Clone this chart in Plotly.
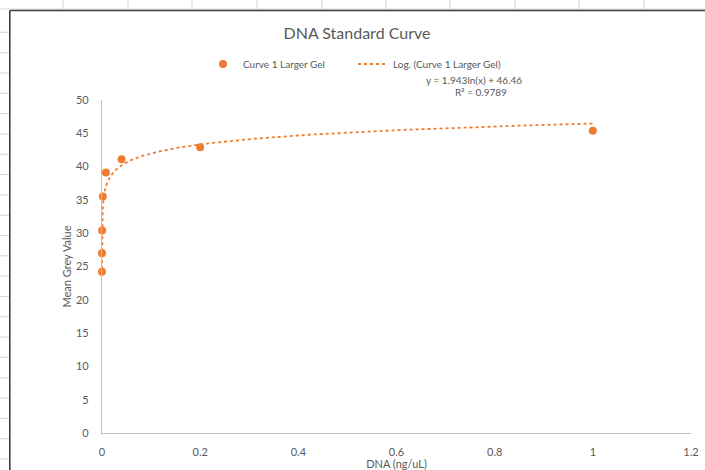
import numpy as np
import plotly.graph_objects as go

# ---- data ----
dna_conc = [1.0, 0.2, 0.04, 0.008, 0.0016, 0.00032, 0.000064, 0.0000128]
mean_grey = [45.4, 42.9, 41.1, 39.1, 35.5, 30.4, 27.0, 24.2]
trend_a = 1.943
trend_b = 46.46
equation_text = "y = 1.943ln(x) + 46.46"
r2_text = "R² = 0.9789"
series_name = "Curve 1 Larger Gel"
trend_name = "Log. (Curve 1 Larger Gel)"
x_ticks = [0, 0.2, 0.4, 0.6, 0.8, 1, 1.2]
x_tick_text = ["0", "0.2", "0.4", "0.6", "0.8", "1", "1.2"]
y_ticks = [0, 5, 10, 15, 20, 25, 30, 35, 40, 45, 50]

ORANGE = "#ED7D31"
TXT = "#595959"
FONT = "Lato"

W_FIG, H_FIG = 705, 470
L, R, T, B = 102, 14, 100, 37
PW = W_FIG - L - R
PH = H_FIG - T - B


def px(xp):
    return (xp - L) / PW


def py(yp):
    return (H_FIG - B - yp) / PH


tx = np.geomspace(min(dna_conc), max(dna_conc), 600)
ty = trend_a * np.log(tx) + trend_b

fig = go.Figure()
fig.add_trace(go.Scatter(
    x=dna_conc, y=mean_grey, mode="markers", name=series_name + "\u00a0" * 9,
    marker=dict(color=ORANGE, size=8, line=dict(width=0)),
    cliponaxis=False,
))
fig.add_trace(go.Scatter(
    x=tx, y=ty, mode="lines", name=trend_name,
    line=dict(color=ORANGE, width=1.8, dash="dot"),
    cliponaxis=False,
))

shapes = []
GRID = "#D9D9D9"
# spreadsheet grid: top strip vertical lines
for xv in [63, 128, 192, 257, 322, 386, 450, 515, 579, 644]:
    shapes.append(dict(type="line", xref="paper", yref="paper",
                       x0=px(xv), x1=px(xv), y0=py(0), y1=py(9.5),
                       line=dict(color=GRID, width=1.2), layer="below"))
# top strip horizontal line
shapes.append(dict(type="line", xref="paper", yref="paper",
                   x0=px(0), x1=px(705), y0=py(9), y1=py(9),
                   line=dict(color=GRID, width=1), layer="below"))
# left strip horizontal lines
for k in range(22):
    yv = 32.3 + 20.32 * k
    shapes.append(dict(type="line", xref="paper", yref="paper",
                       x0=px(0), x1=px(9), y0=py(yv), y1=py(yv),
                       line=dict(color=GRID, width=1.2), layer="below"))
# chart area border (left & top)
BORDER = "#3F3F3F"
shapes.append(dict(type="line", xref="paper", yref="paper",
                   x0=px(9.8), x1=px(9.8), y0=py(10.5), y1=py(471),
                   line=dict(color=BORDER, width=1.6)))
shapes.append(dict(type="line", xref="paper", yref="paper",
                   x0=px(9.8), x1=px(706), y0=py(10.5), y1=py(10.5),
                   line=dict(color=BORDER, width=1.6)))

annotations = [
    dict(text=equation_text, xref="paper", yref="paper",
         x=px(474), y=py(80), xanchor="center", yanchor="middle",
         showarrow=False, font=dict(family=FONT, size=10, color=TXT)),
    dict(text=r2_text, xref="paper", yref="paper",
         x=px(481), y=py(92), xanchor="center", yanchor="middle",
         showarrow=False, font=dict(family=FONT, size=10, color=TXT)),
]

fig.update_layout(
    width=W_FIG, height=H_FIG,
    margin=dict(l=L, r=R, t=T, b=B, autoexpand=False),
    paper_bgcolor="white", plot_bgcolor="white",
    title=dict(text="DNA Standard Curve", x=357 / W_FIG, xanchor="center",
               y=1 - 33 / H_FIG, yanchor="middle",
               font=dict(family=FONT, size=16, color=TXT)),
    legend=dict(orientation="h", x=px(203), y=py(64), xanchor="left", yanchor="middle",
                font=dict(family=FONT, size=10, color=TXT), bgcolor="rgba(0,0,0,0)",
                itemwidth=30, tracegroupgap=0),
    showlegend=True,
    shapes=shapes,
    annotations=annotations,
    xaxis=dict(range=[0, 1.2], tickvals=x_ticks, ticktext=x_tick_text,
               showgrid=False, zeroline=False, showline=True, linecolor="#BFBFBF", linewidth=1.3,
               ticks="", ticklabelstandoff=9,
               tickfont=dict(family=FONT, size=11, color=TXT),
               title=dict(text="DNA (ng/uL)", standoff=2, font=dict(family=FONT, size=11, color=TXT))),
    yaxis=dict(range=[0, 50], tickvals=y_ticks,
               showgrid=False, zeroline=False, showline=True, linecolor="#BFBFBF", linewidth=1.3,
               ticks="", ticklabelstandoff=10,
               tickfont=dict(family=FONT, size=11, color=TXT),
               title=dict(text="Mean Grey Value", standoff=2, font=dict(family=FONT, size=11, color=TXT))),
)

fig.write_html("out.html", config={"displayModeBar": False},
               post_script="document.body.style.margin='0';document.body.style.overflow='hidden';")
